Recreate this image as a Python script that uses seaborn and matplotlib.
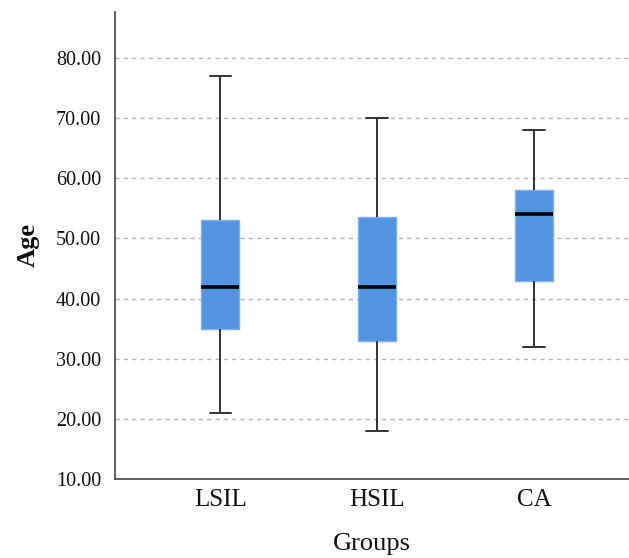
import pandas as pd
import matplotlib
matplotlib.use("Agg")
import matplotlib.pyplot as plt
import seaborn as sns

# five-number summary (min, Q1, median, Q3, max)
groups = ["LSIL", "HSIL", "CA"]
mins = [21, 18, 32]
q1s = [35, 33, 43]
medians = [42, 42, 54]
q3s = [53, 53.5, 58]
maxs = [77, 70, 68]

yticks = [10, 20, 30, 40, 50, 60, 70, 80]

rows = []
for i, g in enumerate(groups):
    for v in (mins[i], q1s[i], medians[i], q3s[i], maxs[i]):
        rows.append({"Groups": g, "Age": v})
df = pd.DataFrame(rows)

sns.set_style("white")
plt.rcParams["font.family"] = ["Liberation Serif", "DejaVu Serif"]
plt.rcParams["text.color"] = "#111111"
plt.rcParams["axes.labelcolor"] = "#111111"
plt.rcParams["xtick.labelcolor"] = "#111111"
plt.rcParams["ytick.labelcolor"] = "#111111"

fig = plt.figure(figsize=(6.29, 5.58), dpi=100)
ax = fig.add_axes([0.183, 0.1416, 0.817, 0.837])

sns.boxplot(
    data=df,
    x="Groups",
    y="Age",
    order=groups,
    whis=(0, 100),
    width=0.24,
    color="#5294E2",
    saturation=1,
    linecolor="#333333",
    linewidth=1.4,
    boxprops={"edgecolor": "#7EAEEC", "linewidth": 1.0},
    medianprops={"color": "black", "linewidth": 2.6},
    capwidths=0.135,
    ax=ax,
    zorder=3,
)

ax.set_xlim(-0.669, 2.605)
ax.set_ylim(10, 87.65)
ax.set_yticks(yticks)
ax.set_yticklabels([f"{t:.2f}" for t in yticks], fontsize=14.5)
for t in yticks[1:]:
    ax.axhline(t, color="#B4B4B4", linestyle=(0, (3, 3)), linewidth=1, zorder=1)

ax.tick_params(axis="y", direction="in", length=3, width=0.8, color="#555555", pad=10)
ax.tick_params(axis="x", length=0, labelsize=18, pad=7)

sns.despine(ax=ax, top=True, right=True)
for side in ("left", "bottom"):
    ax.spines[side].set_color("#444444")
    ax.spines[side].set_linewidth(1.2)

ax.set_xlabel("Groups", fontsize=19, labelpad=16)
ax.set_ylabel("Age", fontsize=19, fontweight="semibold", labelpad=12)

fig.savefig("out.png", dpi=100)
